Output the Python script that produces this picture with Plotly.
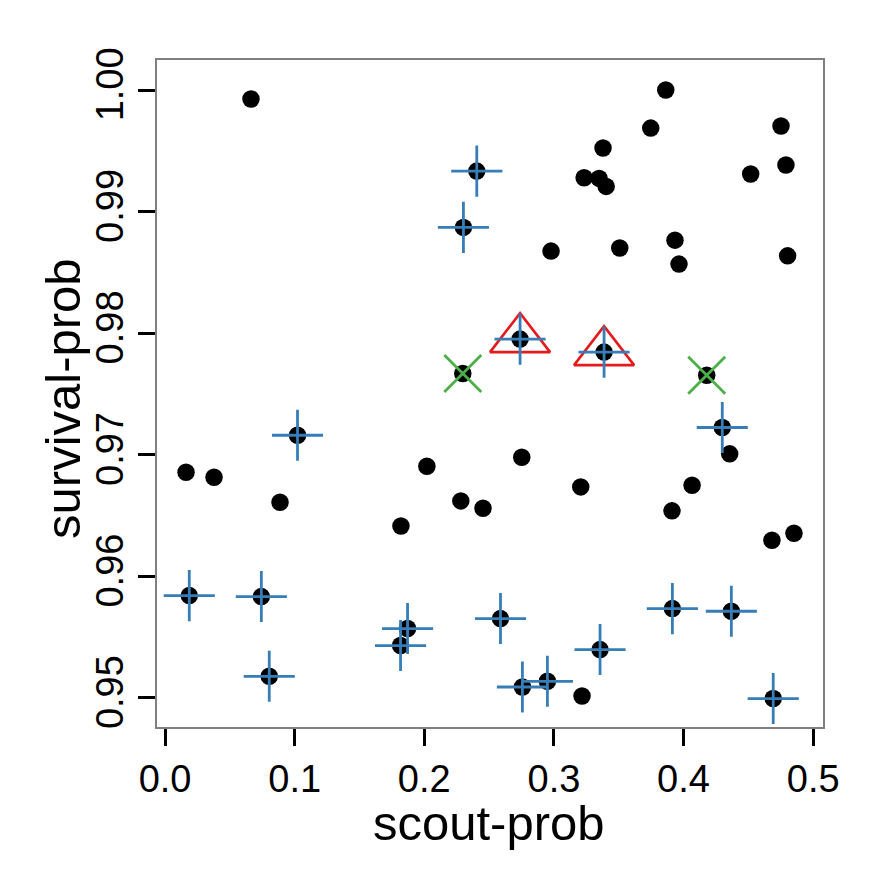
import plotly.graph_objects as go

# ---- data ----
scout = [
    0.0663, 0.3863, 0.3747, 0.3379, 0.3233, 0.3349, 0.3403, 0.4752, 0.4790, 0.4518,
    0.2978, 0.3508, 0.3934, 0.3965, 0.4803, 0.0162, 0.0378, 0.0887, 0.2020, 0.2282,
    0.2453, 0.1820, 0.4356, 0.2752, 0.3207, 0.4066, 0.3911, 0.4682, 0.4852, 0.3217,
    0.2297, 0.4179,
    0.2739, 0.3387,
    0.2405, 0.2302, 0.1022, 0.4299, 0.0187, 0.0743, 0.0804, 0.1871, 0.1817, 0.2588,
    0.3914, 0.4369, 0.3356, 0.2757, 0.2950, 0.4692,
]
survival = [
    0.99926, 1.00000, 0.99687, 0.99523, 0.99278, 0.99273, 0.99207, 0.99704, 0.99383, 0.99309,
    0.98675, 0.98700, 0.98765, 0.98568, 0.98636, 0.96856, 0.96815, 0.96609, 0.96905, 0.96620,
    0.96560, 0.96414, 0.97007, 0.96979, 0.96735, 0.96749, 0.96538, 0.96296, 0.96354, 0.95015,
    0.97668, 0.97654,
    0.97951, 0.97844,
    0.99333, 0.98870, 0.97160, 0.97224, 0.95841, 0.95833, 0.95177, 0.95570, 0.95430, 0.95652,
    0.95734, 0.95712, 0.95397, 0.95089, 0.95136, 0.94994,
]
# group of each point: "" plain, "x" green cross, "tri" red triangle + blue plus, "plus" blue plus
group = [""] * 30 + ["x"] * 2 + ["tri"] * 2 + ["plus"] * 16

x_ticks = [0.0, 0.1, 0.2, 0.3, 0.4, 0.5]
x_tick_labels = ["0.0", "0.1", "0.2", "0.3", "0.4", "0.5"]
y_ticks = [0.95, 0.96, 0.97, 0.98, 0.99, 1.00]
y_tick_labels = ["0.95", "0.96", "0.97", "0.98", "0.99", "1.00"]
x_title = "scout-prob"
y_title = "survival-prob"


def subset(kinds):
    xs = [a for a, g in zip(scout, group) if g in kinds]
    ys = [b for b, g in zip(survival, group) if g in kinds]
    return xs, ys


FONT = "Liberation Sans, Arial, sans-serif"
fig = go.Figure()

fig.add_trace(go.Scatter(x=scout, y=survival, mode="markers",
                         marker=dict(color="black", size=17.5, line=dict(width=0)),
                         showlegend=False, hoverinfo="skip"))
tx, ty = subset({"tri"})
fig.add_trace(go.Scatter(x=tx, y=ty, mode="markers",
                         marker=dict(symbol="triangle-up-open", size=52, color="#E41A1C",
                                     line=dict(color="#E41A1C", width=2.6)),
                         showlegend=False, hoverinfo="skip"))
xx, xy = subset({"x"})
fig.add_trace(go.Scatter(x=xx, y=xy, mode="markers",
                         marker=dict(symbol="x-thin", size=37, color="#4DAF4A",
                                     line=dict(color="#4DAF4A", width=2.8)),
                         showlegend=False, hoverinfo="skip"))
px_, py_ = subset({"plus", "tri"})
fig.add_trace(go.Scatter(x=px_, y=py_, mode="markers",
                         marker=dict(symbol="cross-thin", size=36.5, color="#377EB8",
                                     line=dict(color="#377EB8", width=2.8)),
                         showlegend=False, hoverinfo="skip"))

axis_common = dict(
    showline=True, mirror=True, linecolor="#808080", linewidth=2,
    showgrid=False, zeroline=False,
    ticks="outside", ticklen=17, tickwidth=3, tickcolor="black",
    tickfont=dict(family=FONT, size=38, color="black"),
)

fig.update_xaxes(range=[-0.0062, 0.5076], tickvals=x_ticks, ticktext=x_tick_labels,
                 **axis_common)
fig.update_yaxes(range=[0.9476, 1.00247], tickvals=y_ticks, ticktext=y_tick_labels,
                 tickangle=-90, **axis_common)

title_font = dict(family=FONT, size=49, color="black")
fig.add_annotation(text=x_title, xref="paper", yref="paper", x=0.4985, y=-0.144,
                   xanchor="center", yanchor="middle", showarrow=False, font=title_font)
fig.add_annotation(text=y_title, xref="paper", yref="paper", x=-0.141, y=0.492,
                   xanchor="center", yanchor="middle", textangle=-90, showarrow=False,
                   font=title_font)

# the page body adds an 8 px offset, so the margins are shifted by that amount
fig.update_layout(width=885, height=885,
                  margin=dict(l=149, r=70, t=52, b=166),
                  paper_bgcolor="white", plot_bgcolor="white",
                  font=dict(family=FONT))

fig.write_html("out.html")
